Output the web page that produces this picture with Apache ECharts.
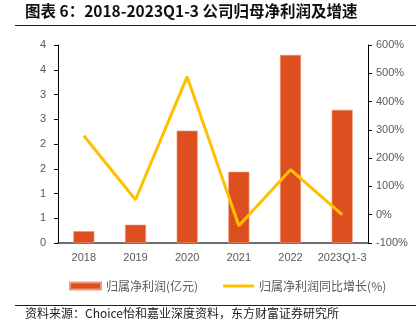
<!DOCTYPE html>
<html><head><meta charset="utf-8">
<script src="https://cdn.jsdelivr.net/npm/echarts@6/dist/echarts.min.js"></script>
<style>html,body{margin:0;padding:0;background:#fff}#c{width:416px;height:328px}</style>
</head><body><div id="c"></div>
<script>
var categories = ['2018','2019','2020','2021','2022','2023Q1-3'];
var profit = [0.24, 0.37, 2.27, 1.44, 3.80, 2.69];
var growth = [279, 53, 488, -39, 159, 0];
var barName = '归属净利润(亿元)';
var lineName = '归属净利润同比增长(%)';
var titleText = '图表 6：2018-2023Q1-3 公司归母净利润及增速';
var sourceText = '资料来源：Choice怡和嘉业深度资料，东方财富证券研究所';

var chart = echarts.init(document.getElementById('c'), null, {renderer:'canvas'});
var font = '"Noto Sans CJK SC", "Liberation Sans", sans-serif';
chart.setOption({
  animation: false,
  textStyle: {fontFamily: font},
  grid: {left: 58, right: 48, top: 45, bottom: 85},
  legend: {
    left: 64, top: 275, itemWidth: 31, itemHeight: 7, itemGap: 25,
    textStyle: {color: '#595959', fontSize: 12, fontFamily: font},
    data: [
      {name: barName, icon: 'rect'},
      {name: lineName, icon: 'path://M0,0H32V3H0Z'}
    ]
  },
  xAxis: {
    type: 'category', data: categories,
    axisLine: {lineStyle: {color: '#404040', width: 1.5}},
    axisTick: {show: false},
    axisLabel: {color: '#595959', fontSize: 11, margin: 9, interval: 0, fontFamily: '"Liberation Sans", Arial, sans-serif'}
  },
  yAxis: [{
    type: 'value', min: 0, max: 4, interval: 0.5,
    axisLine: {show: true, lineStyle: {color: '#000', width: 1}},
    axisTick: {show: true, inside: false, length: 4, lineStyle: {color: '#000'}},
    splitLine: {show: false},
    axisLabel: {color: '#595959', fontSize: 11, margin: 12, fontFamily: '"Liberation Sans", Arial, sans-serif',
      formatter: function(v){ return String(Math.round(v)); }}
  }, {
    type: 'value', min: -100, max: 600, interval: 100,
    axisLine: {show: true, lineStyle: {color: '#000', width: 1}},
    axisTick: {show: true, length: 4, lineStyle: {color: '#000'}},
    splitLine: {show: false},
    axisLabel: {color: '#595959', fontSize: 11, margin: 8, fontFamily: '"Liberation Sans", Arial, sans-serif',
      formatter: function(v){ return v + '%'; }}
  }],
  series: [{
    name: barName, type: 'bar', data: profit, barWidth: 21, yAxisIndex: 0,
    itemStyle: {color: '#DD4F1E', borderColor: '#EE9A7C', borderWidth: 0.6}
  }, {
    name: lineName, type: 'line', data: growth, yAxisIndex: 1,
    symbol: 'none', lineStyle: {color: '#FFC000', width: 3}, itemStyle: {color: '#FFC000'}
  }],
  graphic: [
    {type: 'text', left: 25, top: 3, style: {text: titleText, fontSize: 15.5, fontWeight: 'bold', fill: '#111', fontFamily: font}},
    {type: 'line', shape: {x1: 15, y1: 25.5, x2: 416, y2: 25.5}, style: {stroke: '#222', lineWidth: 1.2}},
    {type: 'line', shape: {x1: 15, y1: 305.5, x2: 416, y2: 305.5}, style: {stroke: '#222', lineWidth: 1}},
    {type: 'text', left: 25, top: 307, style: {text: sourceText, fontSize: 12, fill: '#222', fontFamily: font}}
  ]
});
</script></body></html>
